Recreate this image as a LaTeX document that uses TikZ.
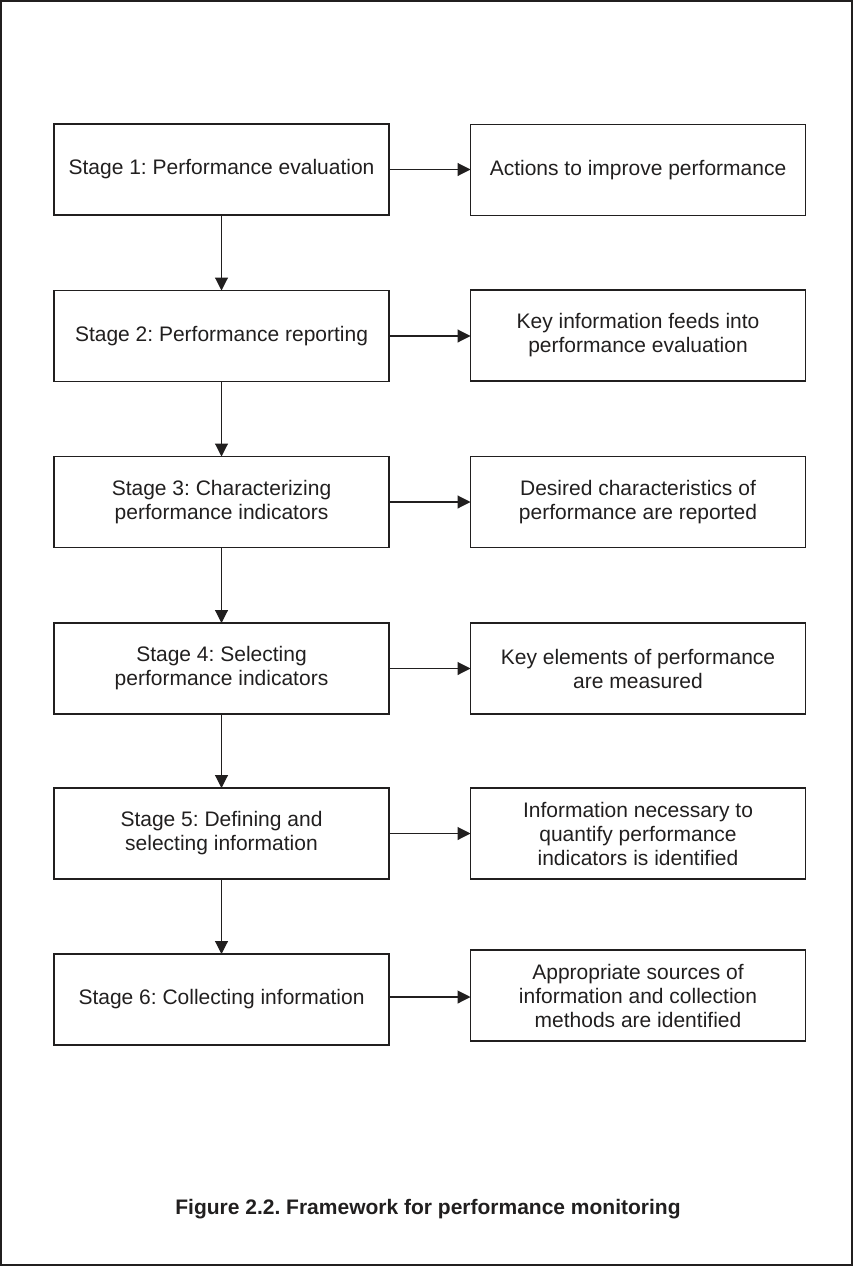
\documentclass[tikz,border=0pt]{standalone}
\usepackage{fontspec}
\setmainfont{Liberation Sans}
\usepackage{xcolor}
\usetikzlibrary{arrows.meta}
\definecolor{ink}{rgb}{0.13, 0.12, 0.12}
\frenchspacing

\tikzset{
    stagebox/.style={draw=ink, line width=0.6pt, minimum width=167.5pt, minimum height=45.5pt,
        inner sep=0pt, outer sep=0pt, align=center, text=ink, font=\fontsize{10.5}{12}\selectfont},
    resultbox/.style={stagebox},
    link/.style={->, draw=ink, line width=0.55pt}
}

\begin{document}
\begin{tikzpicture}[x=0.5pt, y=-0.5pt, >={Triangle[length=6.5pt, width=6.5pt]}]
    % Page size and outer frame
    \useasboundingbox (0,0) rectangle (854,1268);
    \draw[ink, line width=1pt] (1,1.5) rectangle (852,1264.5);

    % Column positions
    \def\xstage{221.5}
    \def\xresult{638}

    % Stages (left column)
    \node[stagebox] (stage1) at (\xstage, 169.5) {Stage 1: Performance evaluation};
    \node[stagebox] (stage2) at (\xstage, 336) {Stage 2: Performance reporting};
    \node[stagebox] (stage3) at (\xstage, 502) {Stage 3: Characterizing\\performance indicators};
    \node[stagebox] (stage4) at (\xstage, 668.5) {Stage 4: Selecting\\performance indicators};
    \node[stagebox] (stage5) at (\xstage, 833.5) {Stage 5: Defining and\\selecting information};
    \node[stagebox] (stage6) at (\xstage, 999.5) {Stage 6: Collecting information};

    % Results (right column)
    \node[resultbox] (result1) at (\xresult, 170) {Actions to improve performance};
    \node[resultbox] (result2) at (\xresult, 335.5) {Key information feeds into\\performance evaluation};
    \node[resultbox] (result3) at (\xresult, 502) {Desired characteristics of\\performance are reported};
    \node[resultbox] (result4) at (\xresult, 668.5) {Key elements of performance\\are measured};
    \node[resultbox] (result5) at (\xresult, 833.5) {Information necessary to\\quantify performance\\indicators is identified};
    \node[resultbox] (result6) at (\xresult, 995.5) {Appropriate sources of\\information and collection\\methods are identified};

    % Arrows down the stages
    \draw[link] (stage1) -- (stage2);
    \draw[link] (stage2) -- (stage3);
    \draw[link] (stage3) -- (stage4);
    \draw[link] (stage4) -- (stage5);
    \draw[link] (stage5) -- (stage6);

    % Arrows from each stage to its result
    \draw[link] (stage1) -- (stage1 -| result1.west);
    \draw[link] (stage2) -- (stage2 -| result2.west);
    \draw[link] (stage3) -- (stage3 -| result3.west);
    \draw[link] (stage4) -- (stage4 -| result4.west);
    \draw[link] (stage5) -- (stage5 -| result5.west);
    \draw[link] (stage6.east) ++(0,-2.5) coordinate (from6) -- (from6 -| result6.west);

    % Caption
    \node[text=ink, font=\bfseries\fontsize{10.5}{12}\selectfont] (caption) at (428, 1209)
        {Figure 2.2. Framework for performance monitoring};
\end{tikzpicture}
\end{document}
